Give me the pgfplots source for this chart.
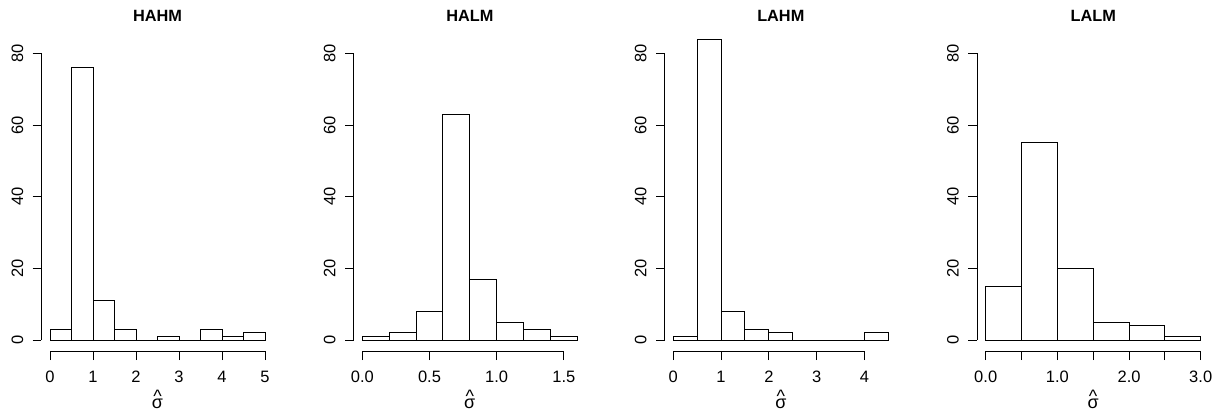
\documentclass[border=0pt]{standalone}
\usepackage{fontspec}
\setmainfont{Liberation Sans}
\usepackage{pgfplots}
\pgfplotsset{compat=1.18}
\pgfplotsset{
  rhist/.style={
    scale only axis, width=232.2bp, height=309.6bp,
    ymin=-3.2, ymax=83.2,
    axis line style={draw=none},
    tick pos=left, tick align=outside,
    major tick length=8.7bp,
    tick style={black, line width=1bp},
    ytick={0,20,40,60,80},
    yticklabels={0,20,40,60,80},
    tick label style={font=\fontsize{16.5bp}{19bp}\selectfont},
    xticklabel shift=7bp,
    yticklabel shift=6bp,
    yticklabel style={rotate=90, anchor=south},
    title style={font=\bfseries\fontsize{16.3bp}{19bp}\selectfont, at={(axis description cs:0.5,1)}, anchor=center, yshift=19.9bp},
    xlabel={\fontsize{18bp}{21bp}\selectfont\ooalign{σ\cr\hidewidth\raisebox{6bp}{\textasciicircum}\hidewidth\cr}},
    xlabel style={at={(axis description cs:0.5,0)}, anchor=center, yshift=-52bp},
    clip=false,
    anchor=south west,
  },
  bars/.style={ybar interval, fill=white, draw=black, line width=1bp},
}
\begin{document}
\begin{tikzpicture}
\useasboundingbox (0,0) rectangle (1220bp,414bp);
% HAHM
\begin{axis}[rhist, at={(41.4bp,62.5bp)}, xmin=-0.2, xmax=5.2,
  xtick={0,1,2,3,4,5}, xticklabels={0,1,2,3,4,5}, title={HAHM}]
\addplot[bars] coordinates {(0,3)(0.5,76)(1,11)(1.5,3)(2,0)(2.5,1)(3,0)(3.5,3)(4,1)(4.5,2)(5,2)};
\draw[line width=1bp] (axis cs:0,-3.2) -- (axis cs:5,-3.2);
\draw[line width=1bp] (axis cs:-0.2,0) -- (axis cs:-0.2,80);
\end{axis}
% HALM
\begin{axis}[rhist, at={(353.7bp,62.5bp)}, xmin=-0.064, xmax=1.664,
  xtick={0,0.5,1,1.5}, xticklabels={0.0,0.5,1.0,1.5}, title={HALM}]
\addplot[bars] coordinates {(0,1)(0.2,2)(0.4,8)(0.6,63)(0.8,17)(1.0,5)(1.2,3)(1.4,1)(1.6,1)};
\draw[line width=1bp] (axis cs:0,-3.2) -- (axis cs:1.5,-3.2);
\draw[line width=1bp] (axis cs:-0.064,0) -- (axis cs:-0.064,80);
\end{axis}
% LAHM
\begin{axis}[rhist, at={(664.7bp,62.5bp)}, xmin=-0.18, xmax=4.68,
  xtick={0,1,2,3,4}, xticklabels={0,1,2,3,4}, title={LAHM}]
\addplot[bars] coordinates {(0,1)(0.5,84)(1,8)(1.5,3)(2,2)(2.5,0)(3,0)(3.5,0)(4,2)(4.5,2)};
\draw[line width=1bp] (axis cs:0,-3.2) -- (axis cs:4,-3.2);
\draw[line width=1bp] (axis cs:-0.18,0) -- (axis cs:-0.18,80);
\end{axis}
% LALM
\begin{axis}[rhist, at={(977.1bp,62.5bp)}, xmin=-0.12, xmax=3.12,
  xtick={0,0.5,1,1.5,2,2.5,3}, xticklabels={0.0,,1.0,,2.0,,3.0}, title={LALM}]
\addplot[bars] coordinates {(0,15)(0.5,55)(1,20)(1.5,5)(2,4)(2.5,1)(3,1)};
\draw[line width=1bp] (axis cs:0,-3.2) -- (axis cs:3,-3.2);
\draw[line width=1bp] (axis cs:-0.12,0) -- (axis cs:-0.12,80);
\end{axis}
\end{tikzpicture}
\end{document}
